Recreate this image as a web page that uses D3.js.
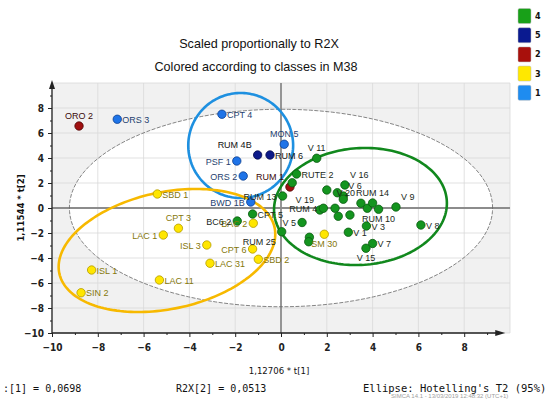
<!DOCTYPE html>
<html>
<head>
<meta charset="utf-8">
<script src="https://cdn.jsdelivr.net/npm/d3@7"></script>
<style>
  body { margin: 0; background: #fff; }
  svg { display: block; }
  .tick text { font-family: "DejaVu Sans Condensed", "DejaVu Sans"; font-weight: bold; font-size: 10px; fill: #222; }
  .tick line { stroke: #222; }
  .stat { font-family: "DejaVu Sans Mono", monospace; fill: #111; }
</style>
</head>
<body>
<svg id="chart" width="550" height="399"></svg>
<script>
// ---- data ----
var names = ["ORO 2", "RUM 1",
  "RUM 4B", "RUM 6",
  "CPT 4", "MON 5", "PSF 1", "ORS 2", "ORS 3", "BWD 1B",
  "SBD 1", "CPT 3", "LAC 1", "ISL 3", "ISL 1", "SIN 2", "LAC 11", "LAC 31", "CPT 6", "SBD 2", "BAC 2", "SM 30",
  "V 11", "RUTE 2", "", "RUM 13", "V 16", "V 6", "", "", "V 20", "", "RUM 14", "RUM 10", "V 9", "V 8",
  "V 19", "RUM 4", "", "", "", "V 5", "", "", "V 1", "V 3", "V 7", "V 15", "RUM 25", "CPT 5", "BC6 2", ""];
var t1 = [-8.82, 0.39,
  -1.02, -0.48,
  -2.58, 0.14, -1.93, -1.65, -7.15, -1.32,
  -5.40, -4.48, -5.14, -3.24, -8.27, -8.73, -5.31, -3.10, -1.24, -0.99, -1.21, 1.89,
  1.56, 0.68, 0.49, 0.07, 2.79, 2.72, 2.00, 2.46, 3.49, 3.77, 4.00, 4.26, 5.02, 6.11,
  1.70, 1.85, 2.36, 2.50, 3.01, 0.92, 1.24, 1.21, 2.94, 3.73, 4.00, 3.71, 0.03, -1.24, -1.91, 2.72];
var t2 = [6.56, 1.68,
  4.24, 4.24,
  7.50, 5.10, 3.76, 2.56, 7.10, 0.48,
  1.12, -1.62, -2.16, -2.96, -4.96, -6.78, -5.76, -4.42, -3.28, -4.10, -1.22, -2.10,
  3.98, 2.72, 2.02, 0.96, 1.84, 0.96, 1.44, 1.22, 0.38, -0.02, 0.40, -0.10, 0.08, -1.36,
  -0.16, -0.02, -0.02, -0.66, -0.56, -1.16, -2.34, -2.70, -1.94, -1.44, -2.84, -3.22, -1.90, -0.48, -1.04, 0.70];
var classes = [2, 2,
  5, 5,
  1, 1, 1, 1, 1, 1,
  3, 3, 3, 3, 3, 3, 3, 3, 3, 3, 3, 3,
  4, 4, 4, 4, 4, 4, 4, 4, 4, 4, 4, 4, 4, 4,
  4, 4, 4, 4, 4, 4, 4, 4, 4, 4, 4, 4, 4, 4, 4, 4];

var legendClasses = [4, 5, 2, 3, 1];
var xTicks = [-10, -8, -6, -4, -2, 0, 2, 4, 6, 8];
var yTicks = [-10, -8, -6, -4, -2, 0, 2, 4, 6, 8];

// class ellipses: centre and two conjugate semi-axes, in score units
var ellipseClass = [1, 3, 4];
var ellipseCenter = [[-1.76, 5.0], [-4.98, -3.40], [3.47, 0.12]];
var ellipseU = [[2.29, 0], [4.70, 1.83], [3.77, 0.48]];
var ellipseV = [[0, 4.2], [0.53, -4.57], [0.18, -4.66]];
var hotelling = [9.24, 7.9];

// ---- styling ----
var fillCol = {1: "#1f74e8", 2: "#a01010", 3: "#ffe600", 4: "#14951f", 5: "#0c1a8a"};
var edgeCol = {1: "#0d3f8f", 2: "#4f0505", 3: "#b39a00", 4: "#0a5a10", 5: "#050b4d"};
var textCol = {1: "#1f3f6f", 2: "#3a0a0a", 3: "#85770a", 4: "#1b2a1b", 5: "#111"};
var legendCol = {1: "#1e8cf0", 2: "#a8100c", 3: "#ffe800", 4: "#18a018", 5: "#0a1a90"};
var ringCol = {1: "#1e90e0", 3: "#f7b900", 4: "#11881d"};

// where each label sits next to its point (default right)
var labelSide = {
  "ORO 2": "t", "MON 5": "t", "RUM 4B": "tl", "PSF 1": "l", "ORS 2": "l", "BWD 1B": "l",
  "RUM 1": "tl", "CPT 3": "t", "LAC 1": "l", "ISL 3": "l", "CPT 6": "l", "BAC 2": "l",
  "SM 30": "b", "V 11": "t", "V 16": "tr", "V 6": "tr", "V 19": "tl", "V 20": "tl",
  "RUM 4": "l", "RUM 14": "t", "V 9": "tr", "RUM 10": "b", "V 15": "b", "RUM 25": "bl",
  "BC6 2": "l", "V 5": "l", "RUM 13": "l"
};

var svg = d3.select("#chart");

var x = d3.scaleLinear().domain([-10, 10]).range([52, 510]);
var y = d3.scaleLinear().domain([-10, 10]).range([333, 83]);

// plot background
svg.append("rect")
  .attr("x", x(-10)).attr("y", y(10))
  .attr("width", x(10) - x(-10)).attr("height", y(-10) - y(10))
  .attr("fill", "#f1f1f1");

function ellipsePath(c, u, v) {
  var pts = d3.range(0, 2 * Math.PI, Math.PI / 90).map(function (t) {
    return [x(c[0] + u[0] * Math.cos(t) + v[0] * Math.sin(t)),
            y(c[1] + u[1] * Math.cos(t) + v[1] * Math.sin(t))];
  });
  return d3.line().curve(d3.curveLinearClosed)(pts);
}

// Hotelling T2 ellipse (white inside)
svg.append("path")
  .attr("d", ellipsePath([0, 0], [hotelling[0], 0], [0, hotelling[1]]))
  .attr("fill", "#fff");

// grid
svg.append("g").selectAll("line").data(xTicks.concat([10])).enter().append("line")
  .attr("x1", function (d) { return x(d); }).attr("x2", function (d) { return x(d); })
  .attr("y1", y(-10)).attr("y2", y(10))
  .attr("stroke", "#d9d9d9").attr("stroke-width", 0.8);
svg.append("g").selectAll("line").data(yTicks.concat([10])).enter().append("line")
  .attr("y1", function (d) { return y(d); }).attr("y2", function (d) { return y(d); })
  .attr("x1", x(-10)).attr("x2", x(10))
  .attr("stroke", "#d9d9d9").attr("stroke-width", 0.8);

// zero lines
svg.append("line").attr("x1", x(0)).attr("x2", x(0)).attr("y1", y(-10)).attr("y2", y(10))
  .attr("stroke", "#8c8c8c").attr("stroke-width", 1.8);
svg.append("line").attr("x1", x(-10)).attr("x2", x(10)).attr("y1", y(0)).attr("y2", y(0))
  .attr("stroke", "#8c8c8c").attr("stroke-width", 1.8);

svg.append("path")
  .attr("d", ellipsePath([0, 0], [hotelling[0], 0], [0, hotelling[1]]))
  .attr("fill", "none").attr("stroke", "#666").attr("stroke-width", 0.8)
  .attr("stroke-dasharray", "4,1.5");

// class ellipses
ellipseClass.forEach(function (k, i) {
  svg.append("path")
    .attr("d", ellipsePath(ellipseCenter[i], ellipseU[i], ellipseV[i]))
    .attr("fill", "none")
    .attr("stroke", ringCol[k])
    .attr("stroke-width", 2.6);
});

// axes
var axisY = svg.append("g").attr("transform", "translate(" + x(-10) + ",0)")
  .call(d3.axisLeft(y).tickValues(yTicks).tickSize(4).tickPadding(4).tickFormat(d3.format("d")));
axisY.select(".domain").remove();
svg.append("g").attr("transform", "translate(" + x(-10) + ",0)")
  .call(d3.axisLeft(y).tickValues(d3.range(-9, 10, 2)).tickSize(2).tickFormat(""))
  .select(".domain").remove();

var axisX = svg.append("g").attr("transform", "translate(0," + y(-10) + ")")
  .call(d3.axisBottom(x).tickValues(xTicks).tickSize(4).tickPadding(7).tickFormat(d3.format("d")));
axisX.select(".domain").remove();
svg.append("g").attr("transform", "translate(0," + y(-10) + ")")
  .call(d3.axisBottom(x).tickValues(d3.range(-9, 10, 2)).tickSize(2).tickFormat(""))
  .select(".domain").remove();

// axis lines with arrows
svg.append("line").attr("x1", x(-10)).attr("x2", x(-10)).attr("y1", y(-10)).attr("y2", y(9.6))
  .attr("stroke", "#222").attr("stroke-width", 1.3);
svg.append("path")
  .attr("d", "M" + (x(-10) - 3) + "," + (y(9.6) + 1) + "L" + x(-10) + "," + (y(9.6) - 8) + "L" + (x(-10) + 3) + "," + (y(9.6) + 1) + "Z")
  .attr("fill", "#222");
svg.append("line").attr("x1", x(-10)).attr("x2", x(9.4)).attr("y1", y(-10)).attr("y2", y(-10))
  .attr("stroke", "#222").attr("stroke-width", 1.3);
svg.append("path")
  .attr("d", "M" + (x(9.4) - 1) + "," + (y(-10) - 3) + "L" + (x(9.4) + 9) + "," + y(-10) + "L" + (x(9.4) - 1) + "," + (y(-10) + 3) + "Z")
  .attr("fill", "#222");

// points
var idx = d3.range(names.length);
svg.append("g").selectAll("circle").data(idx).enter().append("circle")
  .attr("cx", function (i) { return x(t1[i]); })
  .attr("cy", function (i) { return y(t2[i]); })
  .attr("r", 4.2)
  .attr("fill", function (i) { return fillCol[classes[i]]; })
  .attr("stroke", function (i) { return edgeCol[classes[i]]; })
  .attr("stroke-width", 0.8);

// point labels
svg.append("g").selectAll("text").data(idx.filter(function (i) { return names[i] !== ""; }))
  .enter().append("text")
  .attr("x", function (i) {
    var s = labelSide[names[i]] || "r", px = x(t1[i]);
    if (s === "l" || s === "tl" || s === "bl") return px - 6;
    if (s === "t" || s === "b") return px;
    return px + 5;
  })
  .attr("y", function (i) {
    var s = labelSide[names[i]] || "r", py = y(t2[i]);
    if (s[0] === "t") return py - 7;
    if (s[0] === "b") return py + 13;
    return py + 3.5;
  })
  .attr("text-anchor", function (i) {
    var s = labelSide[names[i]] || "r";
    if (s === "l" || s === "tl" || s === "bl") return "end";
    if (s === "t" || s === "b") return "middle";
    return "start";
  })
  .attr("font-family", "Liberation Sans, Arial, sans-serif")
  .attr("font-size", 9)
  .attr("fill", function (i) { return textCol[classes[i]]; })
  .text(function (i) { return names[i]; });

// titles
svg.append("text").attr("x", 259).attr("y", 48).attr("text-anchor", "middle")
  .attr("font-family", "Liberation Sans, Arial, sans-serif").attr("font-size", 12.6).attr("fill", "#111")
  .text("Scaled proportionally to R2X");
svg.append("text").attr("x", 256).attr("y", 71).attr("text-anchor", "middle")
  .attr("font-family", "Liberation Sans, Arial, sans-serif").attr("font-size", 12.6).attr("fill", "#111")
  .text("Colored according to classes in M38");

// axis titles
svg.append("text").attr("x", x(0) - 2).attr("y", 374).attr("text-anchor", "middle")
  .attr("font-family", "DejaVu Sans Condensed, DejaVu Sans").attr("font-size", 9.5).attr("fill", "#111")
  .text("1,12706 * t[1]");
svg.append("text").attr("transform", "translate(24," + y(0) + ") rotate(-90)").attr("text-anchor", "middle")
  .attr("font-family", "DejaVu Sans Condensed, DejaVu Sans").attr("font-size", 9.5).attr("font-weight", "bold").attr("fill", "#111")
  .text("1,11544 * t[2]");

// legend
var lg = svg.append("g").selectAll("g").data(legendClasses).enter().append("g")
  .attr("transform", function (d, i) { return "translate(518," + (8.5 + i * 19.2) + ")"; });
lg.append("rect").attr("width", 13).attr("height", 15).attr("rx", 1.5)
  .attr("fill", function (d) { return legendCol[d]; })
  .attr("stroke", "#bbb").attr("stroke-width", 0.5);
lg.append("text").attr("x", 17).attr("y", 10.5)
  .attr("font-family", "DejaVu Sans Condensed, DejaVu Sans").attr("font-weight", "bold").attr("font-size", 9).attr("fill", "#111")
  .text(function (d) { return d; });

// footer statistics (the first one is clipped at the left edge in the original)
svg.append("text").attr("class", "stat").attr("x", 3).attr("y", 392)
  .attr("font-size", 10).text(":[1] = 0,0698");
svg.append("text").attr("class", "stat").attr("x", 176).attr("y", 392)
  .attr("font-size", 10).text("R2X[2] = 0,0513");
svg.append("text").attr("class", "stat").attr("x", 363).attr("y", 392)
  .attr("font-size", 10.5).text("Ellipse: Hotelling's T2 (95%)");
svg.append("text").attr("x", 391).attr("y", 398)
  .attr("font-family", "Liberation Sans, Arial, sans-serif").attr("font-size", 6).attr("fill", "#a0a0a0")
  .text("SIMCA 14.1 - 13/03/2019 12:48:32 (UTC+1)");
</script>
</body>
</html>
